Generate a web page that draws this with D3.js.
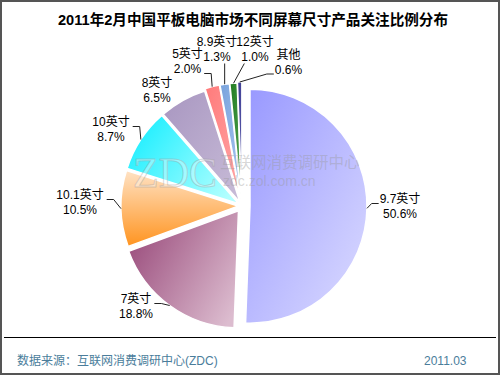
<!DOCTYPE html>
<html><head><meta charset="utf-8">
<script src="https://cdn.jsdelivr.net/npm/d3@7"></script>
<style>
html,body{margin:0;padding:0;background:#fff;}
svg{display:block;font-family:"Liberation Sans","Noto Sans CJK SC",sans-serif;}
</style></head>
<body><svg id="chart" width="500" height="375"></svg>
<script>
// ---- data ----
const title = "2011年2月中国平板电脑市场不同屏幕尺寸产品关注比例分布";
const categories = ["9.7英寸","7英寸","10.1英寸","10英寸","8英寸","5英寸","8.9英寸","12英寸","其他"];
const values = [50.6, 18.8, 10.5, 8.7, 6.5, 2.0, 1.3, 1.0, 0.6];
const sourceText = "数据来源：互联网消费调研中心(ZDC)";
const dateText = "2011.03";

// ---- style / layout (not data) ----
const colorsA = ["#9898ff","#9a4c7c","#ffe2c4","#18eeff","#a896c0","#ff7a7a","#78a2dc","#1f7a1f","#34348a"];
const colorsB = ["#dcdcff","#dcbccf","#ff9420","#b4ffff","#c8bcd8","#ffa8a8","#a8c6f0","#5aaa5a","#6464b4"];
const gradDir = [[0,0,1,1],[0,0.2,1,0.8],[0,0,0,1],[0,0.2,1,0.8],[0,0,1,1],[0,0,1,1],[0,0,1,1],[0,0,1,1],[0,0,1,1]];
const explode = [8,6,4,4,4,6,6,6,7];
const labelOffset = [[158,-3],[-106,97],[-162,-7],[-131,-80],[-85,-119],[-54.5,-148],[-25,-160],[13,-160],[46.5,-147.5]];
const leaderMode = ["right","left","left","left","none","left","below","below","right"];
const leaderLine = [0,0,0,0,0,1,1,1,1];

const svg = d3.select("#chart");
const W = 500, H = 375;
const cx = 242, cy = 206, R = 117;

// border
svg.append("rect").attr("x",1).attr("y",1).attr("width",W-2).attr("height",H-2)
  .attr("fill","#fff").attr("stroke","#555").attr("stroke-width",2);
svg.append("line").attr("x1",4).attr("x2",496).attr("y1",337.5).attr("y2",337.5)
  .attr("stroke","#000").attr("stroke-width",1);

// title
svg.append("text").attr("x",253).attr("y",25).attr("text-anchor","middle")
  .attr("font-size","14.6px").attr("font-weight","bold").attr("fill","#000").text(title);

// gradients
const defs = svg.append("defs");
values.forEach((v,i)=>{
  const g = defs.append("linearGradient").attr("id","g"+i)
    .attr("x1",gradDir[i][0]).attr("y1",gradDir[i][1]).attr("x2",gradDir[i][2]).attr("y2",gradDir[i][3]);
  g.append("stop").attr("offset","0").attr("stop-color",colorsA[i]);
  g.append("stop").attr("offset","1").attr("stop-color",colorsB[i]);
});

const pie = d3.pie().sort(null).value(d=>d).startAngle(0).endAngle(2*Math.PI);
const arcs = pie(values);
const arc = d3.arc().innerRadius(0).outerRadius(R);

const pg = svg.append("g").attr("transform",`translate(${cx},${cy})`);
const off = arcs.map((a,i)=>{
  const m = (a.startAngle+a.endAngle)/2;
  return [explode[i]*Math.sin(m), -explode[i]*Math.cos(m)];
});
pg.selectAll("path.slice").data(arcs).join("path").attr("class","slice")
  .attr("transform",(d,i)=>`translate(${off[i][0]},${off[i][1]})`)
  .attr("d",arc).attr("fill",(d,i)=>`url(#g${i})`)
  .attr("stroke","#fff").attr("stroke-width",1.5);

// watermark
const wm = svg.append("g").attr("pointer-events","none");
wm.append("text").attr("x",133).attr("y",187).attr("font-family","Liberation Serif, serif")
  .attr("font-size","42px").attr("fill","#fff").attr("fill-opacity",0.35)
  .attr("stroke","#999").attr("stroke-opacity",0.4).attr("stroke-width",1).text("ZDC");
wm.append("text").attr("x",220).attr("y",168).attr("font-size","15.5px")
  .attr("fill","#999").attr("fill-opacity",0.4).text("互联网消费调研中心");
wm.append("text").attr("x",223).attr("y",186).attr("font-size","14px")
  .attr("fill","#999").attr("fill-opacity",0.4).text("zdc.zol.com.cn");

// labels
const lg = svg.append("g");
arcs.forEach((a,i)=>{
  const lx = cx + labelOffset[i][0], ly = cy + labelOffset[i][1];
  const t = lg.append("text").attr("x",lx).attr("y",ly).attr("text-anchor","middle")
    .attr("font-size","12px").attr("fill","#000");
  const t1 = t.append("tspan").attr("x",lx).attr("y",ly).text(categories[i]);
  const t2 = t.append("tspan").attr("x",lx).attr("y",ly+15).text(values[i].toFixed(1)+"%");
  const widths = [t1.node().getComputedTextLength(), t2.node().getComputedTextLength()];
  if (leaderMode[i]==="none") return;
  const m = (a.startAngle+a.endAngle)/2;
  const sx = cx + off[i][0] + R*Math.sin(m), sy = cy + off[i][1] - R*Math.cos(m);
  const li = leaderLine[i];
  const w = widths[li];
  const ty = ly + li*15 + 0.5;
  let pts;
  if (leaderMode[i]==="left") {
    const ex = lx + w/2 + 3;
    pts = [[sx,sy],[ex+7,ty],[ex,ty]];
  } else if (leaderMode[i]==="right") {
    const ex = lx - w/2 - 1;
    pts = [[sx,sy],[ex-7,ty],[ex,ty]];
  } else {
    const ex = Math.max(lx - w/2 + 3, Math.min(lx + w/2 - 3, sx));
    pts = [[sx,sy],[ex,ly+15+2.5]];
  }
  lg.append("path").attr("d",d3.line()(pts)).attr("fill","none")
    .attr("stroke","#222").attr("stroke-width",1);
});

// footer
svg.append("text").attr("x",17).attr("y",365).attr("font-size","12px").attr("fill","#4a7d9b").text(sourceText);
svg.append("text").attr("x",424).attr("y",365).attr("font-size","12px").attr("fill","#4a7d9b").text(dateText);
</script></body></html>
